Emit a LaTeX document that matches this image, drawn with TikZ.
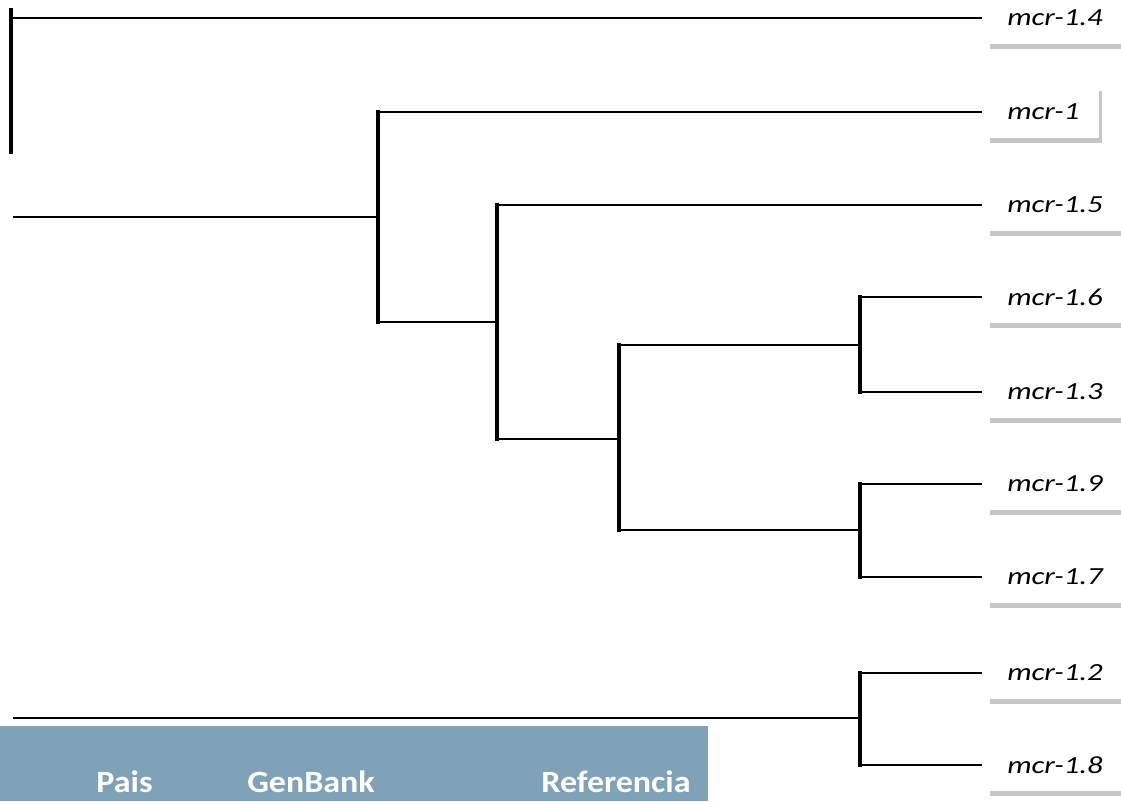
\documentclass[tikz,border=0pt]{standalone}
\usepackage{fontspec}
\setmainfont{Carlito}
\newfontfamily\genefont[FakeStretch=1.25]{Carlito}
\newfontfamily\headfont[FakeStretch=1.1]{Carlito}
\usetikzlibrary{shadows, positioning, calc}
\definecolor{headBlue}{RGB}{127,162,183}

\tikzset{
  branch/.style={line width=1.1pt, shorten >=0.1cm},
  bar/.style={line width=1.8pt, line cap=rect},
  gene/.style={fill=white, anchor=west, inner xsep=0.4cm, minimum height=1.04cm,
    font=\genefont\itshape\fontsize{14}{16}\selectfont,
    drop shadow={shadow xshift=1.5pt, shadow yshift=-3pt, opacity=0.45, fill=gray}},
  head/.style={font=\headfont\bfseries\fontsize{17.6}{20}\selectfont, text=white, anchor=base}
}

\begin{document}
\begin{tikzpicture}[x=0.02cm, y=-0.02cm]
    \useasboundingbox (0,0) rectangle (1121,801);
    \clip (0,0) rectangle (1121,801);

    % Leaf labels
    \node[gene] (m14) at (987,18) {mcr-1.4};
    \node[gene] (m1)  at (987,112) {mcr-1};
    \node[gene] (m15) at (987,205) {mcr-1.5};
    \node[gene] (m16) at (987,297) {mcr-1.6};
    \node[gene] (m13) at (987,392) {mcr-1.3};
    \node[gene] (m19) at (987,484) {mcr-1.9};
    \node[gene] (m17) at (987,577) {mcr-1.7};
    \node[gene] (m12) at (987,673) {mcr-1.2};
    \node[gene] (m18) at (987,765) {mcr-1.8};

    % Inner nodes
    \coordinate (rTop) at (11,10);
    \coordinate (rEnd) at (11,152);
    \coordinate (r0)   at (11,18);
    \coordinate (a0)   at (13,217);
    \coordinate (b0)   at (13,718);
    \coordinate (nA)   at (378,217);
    \coordinate (nB)   at (497,322);
    \coordinate (nC)   at (619,439);
    \coordinate (nD)   at (860,345);
    \coordinate (nE)   at (860,530);
    \coordinate (nF)   at (860,718);

    % Root stub and top branch
    \draw[bar] (rTop) -- (rEnd);
    \draw[branch] (r0) -- (m14);

    % Upper clade
    \draw[branch, shorten >=0pt] (a0) -- (nA);
    \draw[bar] (nA |- m1) -- (nA |- nB);
    \draw[branch] (nA |- m1) -- (m1);
    \draw[branch, shorten >=0pt] (nA |- nB) -- (nB);

    \draw[bar] (nB |- m15) -- (nB |- nC);
    \draw[branch] (nB |- m15) -- (m15);
    \draw[branch, shorten >=0pt] (nB |- nC) -- (nC);

    \draw[bar] (nC |- nD) -- (nC |- nE);
    \draw[branch, shorten >=0pt] (nC |- nD) -- (nD);
    \draw[branch, shorten >=0pt] (nC |- nE) -- (nE);

    \draw[bar] (nD |- m16) -- (nD |- m13);
    \draw[branch] (nD |- m16) -- (m16);
    \draw[branch] (nD |- m13) -- (m13);

    \draw[bar] (nE |- m19) -- (nE |- m17);
    \draw[branch] (nE |- m19) -- (m19);
    \draw[branch] (nE |- m17) -- (m17);

    % Lower clade
    \draw[branch, shorten >=0pt] (b0) -- (nF);
    \draw[bar] (nF |- m12) -- (nF |- m18);
    \draw[branch] (nF |- m12) -- (m12);
    \draw[branch] (nF |- m18) -- (m18);

    % Table header
    \fill[headBlue] (0,726) rectangle (708,801);
    \node[head] (hPais) at (124.5,792) {Pais};
    \node[head] (hGen)  at (311,792) {GenBank};
    \node[head] (hRef)  at (616,792) {Referencia};
\end{tikzpicture}
\end{document}
